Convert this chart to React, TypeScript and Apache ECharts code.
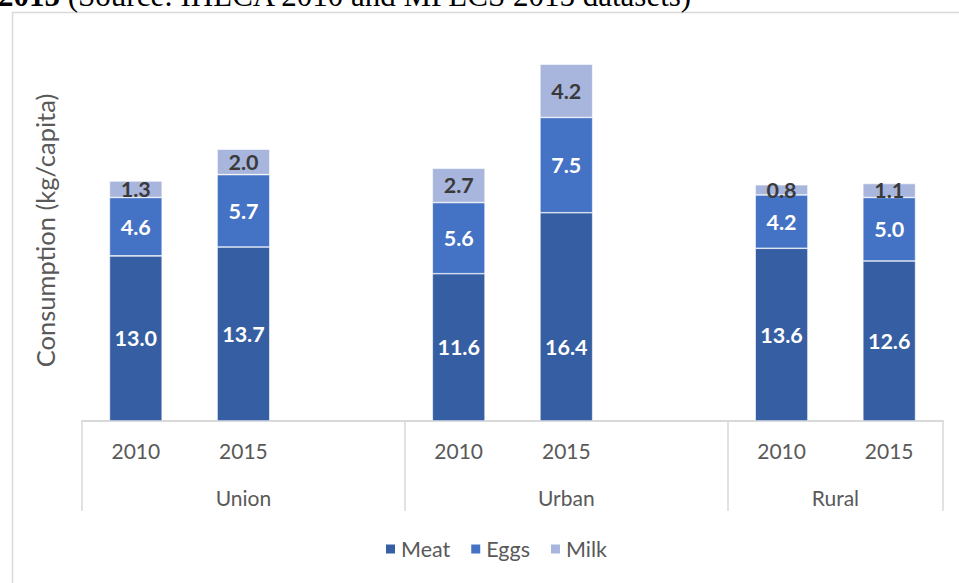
import React, { useEffect, useRef } from 'react';
import * as echarts from 'echarts';

const regions = ['Union', 'Urban', 'Rural'];
const years = ['2010', '2015'];
const meatByRegion = [[13.0, 13.7], [11.6, 16.4], [13.6, 12.6]];
const eggsByRegion = [[4.6, 5.7], [5.6, 7.5], [4.2, 5.0]];
const milkByRegion = [[1.3, 2.0], [2.7, 4.2], [0.8, 1.1]];
const seriesNames = ['Meat', 'Eggs', 'Milk'];
const yAxisTitle = 'Consumption (kg/capita)';
const captionBold = '2015';
const captionRest = ' (Source: IHLCA 2010 and MPLCS 2015 datasets)';

// build slot layout: each region gets its years plus one empty gap slot (except the last)
const categories: string[] = [];
const groupSizes: number[] = [];
regions.forEach((r, i) => {
  years.forEach((y) => categories.push(y));
  let size = years.length;
  if (i < regions.length - 1) {
    categories.push('');
    size += 1;
  }
  groupSizes.push(size);
});
const withGaps = (arr: number[][]) => {
  const out: (number | null)[] = [];
  arr.forEach((vals, i) => {
    vals.forEach((v) => out.push(v));
    if (i < arr.length - 1) out.push(null);
  });
  return out;
};
const meat = withGaps(meatByRegion);
const eggs = withGaps(eggsByRegion);
const milk = withGaps(milkByRegion);

const groupStarts: number[] = [];
const groupCenters: number[] = [];
{
  let acc = 0;
  groupSizes.forEach((s) => {
    groupStarts.push(acc);
    groupCenters.push(acc + s / 2);
    acc += s;
  });
}
const totalSlots = categories.length;

const FONT = 'Lato, Carlito, "Noto Sans", sans-serif';
const GRAY = '#595959';
const LINE = '#d9d9d9';
const COLORS = ['#365ea2', '#4472c4', '#a8b5dc'];
// label nudge (style): the Urban 2015 meat label sits lower in the original
const LABEL_NUDGE: Record<string, Record<number, number>> = { Meat: { 4: 30 } };

export default function App() {
  const ref = useRef<HTMLDivElement>(null);
  useEffect(() => {
    if (!ref.current) return;
    const chart = echarts.init(ref.current, null, { renderer: 'svg' });
    const mkSeries = (name: string, data: (number | null)[], idx: number) => ({
      name,
      type: 'bar',
      stack: 'total',
      data: data.map((v, i) => {
        const dy = LABEL_NUDGE[name] && LABEL_NUDGE[name][i];
        return dy ? { value: v, label: { offset: [0, dy] } } : v;
      }),
      barWidth: '49%',
      itemStyle: { color: COLORS[idx], borderColor: '#ffffff', borderWidth: 0.6 },
      label: {
        show: true,
        position: 'inside',
        formatter: (p: any) => (p.value == null ? '' : Number(p.value).toFixed(1)),
        fontFamily: FONT,
        fontWeight: 'bold',
        fontSize: 21.5,
        color: idx === 2 ? '#3a3a3a' : '#ffffff',
      },
    });
    chart.setOption({
      animation: false,
      backgroundColor: '#ffffff',
      textStyle: { fontFamily: FONT },
      grid: { left: 82, right: 16, top: 40, bottom: 162, containLabel: false },
      legend: {
        data: seriesNames,
        left: 379,
        top: 533,
        itemWidth: 11,
        itemHeight: 11,
        itemGap: 19,
        icon: 'rect',
        textStyle: { fontFamily: FONT, fontSize: 21.5, color: GRAY },
      },
      xAxis: [
        {
          type: 'category',
          data: categories,
          position: 'bottom',
          axisLine: { show: true, lineStyle: { color: LINE, width: 2 } },
          axisTick: {
            show: true,
            length: 90,
            interval: (idx: number) => groupStarts.includes(idx),
            lineStyle: { color: LINE, width: 1.5 },
          },
          axisLabel: { interval: 0, margin: 19, fontFamily: FONT, fontSize: 21, color: GRAY },
        },
        {
          type: 'value',
          position: 'bottom',
          min: 0,
          max: totalSlots,
          interval: 0.5,
          axisLine: { show: false },
          axisTick: { show: false },
          splitLine: { show: false },
          axisLabel: {
            margin: 66,
            fontFamily: FONT,
            fontSize: 21,
            color: GRAY,
            showMinLabel: true,
            showMaxLabel: true,
            formatter: (v: number) => {
              const i = groupCenters.findIndex((c) => Math.abs(c - v) < 1e-6);
              return i >= 0 ? regions[i] : '';
            },
          },
        },
      ],
      yAxis: {
        type: 'value',
        min: 0,
        max: 30,
        axisLine: { show: false },
        axisTick: { show: false },
        axisLabel: { show: false },
        splitLine: { show: false },
        name: yAxisTitle,
        nameLocation: 'middle',
        nameGap: 24,
        nameTextStyle: { fontFamily: FONT, fontSize: 25.5, color: GRAY },
      },
      series: [mkSeries('Meat', meat, 0), mkSeries('Eggs', eggs, 1), mkSeries('Milk', milk, 2)],
      graphic: [
        {
          type: 'rect',
          silent: true,
          z: -10,
          shape: { x: 12.5, y: 12.5, width: 1000, height: 700 },
          style: { fill: 'none', stroke: LINE, lineWidth: 1.5 },
        },
        {
          type: 'text',
          left: -2,
          top: -20,
          style: {
            text: '{b|' + captionBold + '}' + captionRest,
            fontFamily: '"Liberation Serif", "Times New Roman", serif',
            fontSize: 31,
            fill: '#000000',
            rich: { b: { fontWeight: 'bold', fontFamily: '"Liberation Serif", serif', fontSize: 31, fill: '#000' } },
          },
        },
      ],
    });
    return () => chart.dispose();
  }, []);
  return (
    <div
      ref={ref}
      style={{ position: 'fixed', left: 0, top: 0, width: 959, height: 583, background: '#fff' }}
    />
  );
}
